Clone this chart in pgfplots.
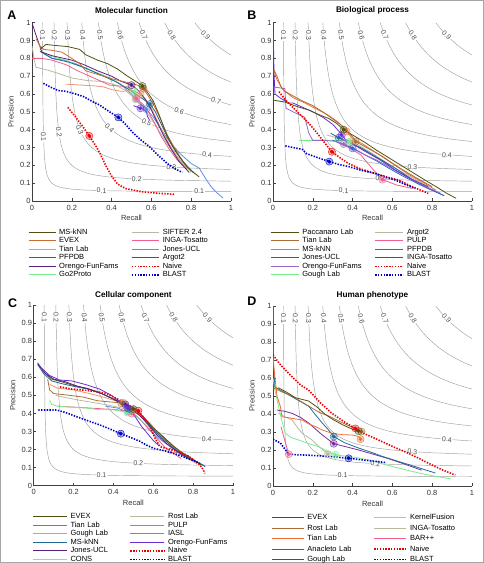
\documentclass[border=0pt]{standalone}
\usepackage{fontspec}
\setmainfont{Liberation Sans}
\usepackage{pgfplots}
\pgfplotsset{compat=1.18}

\definecolor{cOlive}{RGB}{80,80,20}
\definecolor{cBrown}{RGB}{170,110,55}
\definecolor{cBrOr}{RGB}{200,110,50}
\definecolor{cSalmon}{RGB}{230,150,115}
\definecolor{cOrange}{RGB}{240,110,50}
\definecolor{cTeal}{RGB}{35,105,150}
\definecolor{cDPurple}{RGB}{90,30,130}
\definecolor{cMPurple}{RGB}{115,45,155}
\definecolor{cLPurple}{RGB}{150,105,200}
\definecolor{cLGreen}{RGB}{120,235,140}
\definecolor{cLGray}{RGB}{185,185,160}
\definecolor{cPink}{RGB}{240,95,140}
\definecolor{cLBlue}{RGB}{95,140,230}
\definecolor{cBlue}{RGB}{50,100,215}
\definecolor{cViolet}{RGB}{105,45,210}
\definecolor{cNaive}{RGB}{235,0,0}
\definecolor{cBlast}{RGB}{0,0,200}
\definecolor{cIso}{RGB}{160,160,160}

\newcommand{\smallfont}{\fontsize{7.5}{8}\selectfont}

\tikzset{isolabel/.style={fill=white, inner sep=0.7pt, font=\fontsize{7}{7}\selectfont, text=black!70}}

\pgfplotsset{
  panel/.style={
    scale only axis,
    xmin=0, xmax=1, ymin=0, ymax=1,
    axis x line*=bottom, axis y line*=left,
    axis line style={-, black!75, line width=0.5pt},
    tick align=inside, major tick length=2.5pt,
    tick style={black!75, line width=0.5pt},
    xtick={0,0.2,0.4,0.6,0.8,1}, xticklabels={0,0.2,0.4,0.6,0.8,1},
    ytick={0,0.1,0.2,0.3,0.4,0.5,0.6,0.7,0.8,0.9,1},
    yticklabels={0,0.1,0.2,0.3,0.4,0.5,0.6,0.7,0.8,0.9,1},
    tick label style={font=\smallfont, text=black!80},
    xticklabel style={yshift=-0.5pt},
    yticklabel style={xshift=2pt},
    xlabel=Recall, ylabel=Precision,
    label style={font=\smallfont, text=black!80},
    xlabel style={at={(axis description cs:0.5,-0.097)}, anchor=center},
    ylabel style={at={(axis description cs:-0.106,0.5)}, anchor=center},
    title style={font=\bfseries\fontsize{8.2}{9}\selectfont, anchor=center},
    legend columns=2,
    legend cell align=left,
    legend style={draw=none, fill=none, inner sep=0pt, font=\smallfont,
      anchor=north west, row sep=1.9pt, column sep=3pt,
      nodes={inner sep=0pt, text height=5.2pt, text depth=1.4pt}},
  },
  dl/.style={forget plot, line width=0.8pt, color=#1},
  nv/.style={forget plot, color=cNaive, line width=1.6pt, dash pattern=on 1.4pt off 1.4pt},
  bl/.style={forget plot, color=cBlast, line width=1.6pt, dash pattern=on 1.4pt off 1.4pt},
  isoline/.style={forget plot, color=cIso, line width=0.45pt, smooth},
}

% iso-F curves, F = 0.1 ... 0.9
\newcommand{\isoF}{%
  \addplot[isoline] coordinates {(0.0526,1) (0.0543,0.6315) (0.0570,0.4060) (0.0615,0.2680) (0.0687,0.1834) (0.0806,0.1317) (0.1,0.1) (0.1317,0.0806) (0.1834,0.0687) (0.2680,0.0615) (0.4060,0.0570) (0.6315,0.0543) (1,0.0526)};
  \addplot[isoline] coordinates {(0.1111,1) (0.1160,0.7240) (0.1231,0.5327) (0.1333,0.4) (0.1481,0.3080) (0.1693,0.2442) (0.2,0.2) (0.2442,0.1693) (0.3080,0.1481) (0.4,0.1333) (0.5327,0.1231) (0.7240,0.1160) (1,0.1111)};
  \addplot[isoline] coordinates {(0.1765,1) (0.1853,0.7866) (0.1972,0.6268) (0.2130,0.5071) (0.2341,0.4174) (0.2623,0.3503) (0.3,0.3) (0.3503,0.2623) (0.4174,0.2341) (0.5071,0.2130) (0.6268,0.1972) (0.7866,0.1853) (1,0.1765)};
  \addplot[isoline] coordinates {(0.25,1) (0.2630,0.8350) (0.2794,0.7040) (0.3,0.6) (0.3260,0.5175) (0.3587,0.4520) (0.4,0.4) (0.4520,0.3587) (0.5175,0.3260) (0.6,0.3) (0.7040,0.2794) (0.8350,0.2630) (1,0.25)};
  \addplot[isoline] coordinates {(0.3333,1) (0.3501,0.8745) (0.3702,0.7700) (0.3943,0.6830) (0.4234,0.6106) (0.4582,0.5502) (0.5,0.5) (0.5502,0.4582) (0.6106,0.4234) (0.6830,0.3943) (0.7700,0.3702) (0.8745,0.3501) (1,0.3333)};
  \addplot[isoline] coordinates {(0.4286,1) (0.4481,0.9078) (0.4705,0.8278) (0.4964,0.7583) (0.5262,0.6979) (0.5605,0.6455) (0.6,0.6) (0.6455,0.5605) (0.6979,0.5262) (0.7583,0.4964) (0.8278,0.4705) (0.9078,0.4481) (1,0.4286)};
  \addplot[isoline] coordinates {(0.5385,1) (0.5590,0.9363) (0.5817,0.8788) (0.6068,0.8270) (0.6348,0.7802) (0.6657,0.7380) (0.7,0.7) (0.7380,0.6657) (0.7802,0.6348) (0.8270,0.6068) (0.8788,0.5817) (0.9363,0.5590) (1,0.5385)};
  \addplot[isoline] coordinates {(0.6667,1) (0.6853,0.9608) (0.7052,0.9242) (0.7266,0.8899) (0.7494,0.8579) (0.7739,0.8280) (0.8,0.8) (0.8280,0.7739) (0.8579,0.7494) (0.8899,0.7266) (0.9242,0.7052) (0.9608,0.6853) (1,0.6667)};
  \addplot[isoline] coordinates {(0.8182,1) (0.8307,0.9819) (0.8436,0.9644) (0.8570,0.9475) (0.8709,0.9311) (0.8852,0.9153) (0.9,0.9) (0.9153,0.8852) (0.9311,0.8709) (0.9475,0.8570) (0.9644,0.8436) (0.9819,0.8307) (1,0.8182)};
}
\newcommand{\clab}[4]{\node[isolabel, rotate=#3] at (axis cs:#1,#2) {#4};}
\newcommand{\toplabels}{%
  \clab{0.0528}{0.93}{-90}{0.1}
  \clab{0.112}{0.93}{-89}{0.2}
  \clab{0.179}{0.93}{-88}{0.3}
  \clab{0.255}{0.93}{-85}{0.4}
  \clab{0.342}{0.93}{-81}{0.5}
  \clab{0.443}{0.93}{-76}{0.6}
  \clab{0.561}{0.93}{-68}{0.7}
  \clab{0.702}{0.93}{-57}{0.8}
  \clab{0.872}{0.93}{-45}{0.9}
}
% best-F point: halo plus dot
\newcommand{\fmax}[3]{%
  \addplot[forget plot, only marks, mark=*, mark size=3.6pt,
    mark options={draw=#1, fill=#1, fill opacity=0.3, draw opacity=0.8, line width=0.5pt}] coordinates {(#2,#3)};
  \addplot[forget plot, only marks, mark=*, mark size=1.7pt, mark options={draw=#1, fill=#1}] coordinates {(#2,#3)};
}
\newcommand{\leg}[2]{\addlegendimage{color=#1, line width=1pt}\addlegendentry{#2}}
\newcommand{\legN}{\addlegendimage{color=cNaive, line width=1.6pt, dash pattern=on 1.4pt off 1.4pt}\addlegendentry{Naive}}
\newcommand{\legB}{\addlegendimage{color=cBlast, line width=1.6pt, dash pattern=on 1.4pt off 1.4pt}\addlegendentry{BLAST}}

\begin{document}
\begin{tikzpicture}[x=1pt,y=1pt]
\useasboundingbox (0,0) rectangle (484,563);
\draw[black!35, line width=0.8pt] (0.4,0.4) rectangle (483.6,562.6);

% ---------------- A: Molecular function ----------------
\begin{axis}[panel, at={(32pt,362pt)}, anchor=south west, width=199pt, height=178.3pt,
  title={Molecular function}, title style={at={(axis description cs:0.5,1.034)}},
  legend image code/.code={\draw[#1] (0pt,0pt) -- (27pt,0pt);},
  legend style={at={(axis description cs:-0.02,-0.157)}},
  legend style={/tikz/column 2/.style={text width=69pt}}]
\isoF
\toplabels
\clab{0.058}{0.36}{-88}{0.1}
\clab{0.135}{0.386}{-82}{0.2}
\clab{0.24}{0.40}{-68}{0.3}
\clab{0.39}{0.41}{-45}{0.4}
\clab{0.576}{0.442}{-28}{0.5}
\clab{0.74}{0.505}{-23}{0.6}
\clab{0.925}{0.563}{-18}{0.7}
\clab{0.88}{0.259}{-4.5}{0.4}
\clab{0.70}{0.191}{-4}{0.3}
\clab{0.526}{0.124}{-3}{0.2}
\clab{0.35}{0.058}{-1.4}{0.1}
\clab{0.84}{0.053}{0}{0.1}
\addplot[dl=cLGray] coordinates {(0.0,0.87) (0.01,0.80) (0.02,0.75) (0.06,0.74) (0.12,0.72) (0.20,0.69) (0.28,0.675) (0.36,0.67) (0.42,0.65) (0.47,0.62) (0.52,0.57) (0.56,0.52) (0.60,0.46) (0.64,0.39) (0.68,0.32) (0.72,0.26) (0.77,0.20) (0.82,0.15)};
\addplot[dl=cLBlue] coordinates {(0.04,0.84) (0.10,0.80) (0.16,0.79) (0.22,0.77) (0.30,0.73) (0.38,0.69) (0.44,0.66) (0.50,0.60) (0.54,0.55) (0.575,0.515) (0.61,0.47) (0.65,0.40) (0.70,0.32) (0.75,0.26) (0.80,0.21) (0.84,0.185) (0.87,0.13) (0.90,0.08) (0.93,0.045) (0.96,0.017)};
\addplot[dl=cPink] coordinates {(0.0,0.80) (0.05,0.80) (0.10,0.79) (0.17,0.765) (0.23,0.73) (0.29,0.70) (0.35,0.67) (0.39,0.65) (0.44,0.645) (0.48,0.64) (0.51,0.61) (0.525,0.575) (0.56,0.54) (0.59,0.49) (0.62,0.43) (0.65,0.36) (0.69,0.29) (0.73,0.23) (0.78,0.18)};
\addplot[dl=cLGreen] coordinates {(0.05,0.83) (0.10,0.81) (0.17,0.79) (0.23,0.76) (0.29,0.735) (0.35,0.71) (0.40,0.685) (0.45,0.65) (0.49,0.63) (0.515,0.615) (0.55,0.59) (0.58,0.55) (0.61,0.49) (0.64,0.42) (0.67,0.35) (0.71,0.28) (0.75,0.22) (0.80,0.16)};
\addplot[dl=cTeal] coordinates {(0.04,0.84) (0.10,0.80) (0.18,0.78) (0.26,0.75) (0.34,0.71) (0.42,0.67) (0.48,0.63) (0.52,0.60) (0.56,0.57) (0.593,0.544) (0.62,0.50) (0.65,0.43) (0.68,0.36) (0.72,0.28) (0.76,0.22) (0.81,0.16)};
\addplot[dl=cSalmon] coordinates {(0.17,0.655) (0.25,0.65) (0.32,0.645) (0.36,0.64) (0.40,0.625) (0.45,0.615) (0.50,0.62) (0.545,0.60) (0.57,0.57) (0.60,0.52) (0.63,0.45) (0.66,0.38) (0.70,0.30) (0.74,0.23) (0.78,0.18)};
\addplot[dl=cDPurple] coordinates {(0.0,1.0) (0.02,0.93) (0.05,0.835) (0.10,0.815) (0.16,0.80) (0.20,0.79) (0.26,0.765) (0.33,0.73) (0.40,0.70) (0.45,0.67) (0.50,0.65) (0.53,0.625) (0.57,0.57) (0.60,0.51) (0.63,0.44) (0.66,0.37) (0.70,0.29) (0.74,0.22) (0.79,0.16)};
\addplot[dl=cBrOr] coordinates {(0.02,0.91) (0.04,0.87) (0.06,0.85) (0.10,0.845) (0.15,0.835) (0.20,0.80) (0.24,0.77) (0.27,0.73) (0.30,0.72) (0.36,0.70) (0.42,0.68) (0.48,0.665) (0.53,0.65) (0.56,0.63) (0.59,0.58) (0.62,0.52) (0.65,0.45) (0.68,0.37) (0.72,0.29) (0.76,0.22) (0.80,0.17)};
\addplot[dl=cOlive] coordinates {(0.04,0.85) (0.07,0.878) (0.12,0.872) (0.18,0.866) (0.24,0.85) (0.27,0.82) (0.33,0.79) (0.38,0.77) (0.43,0.74) (0.48,0.70) (0.53,0.665) (0.555,0.645) (0.58,0.61) (0.61,0.56) (0.64,0.48) (0.67,0.39) (0.70,0.32) (0.74,0.25) (0.78,0.19) (0.84,0.135)};
\addplot[dl=cViolet] coordinates {(0.51,0.535) (0.545,0.52) (0.56,0.515) (0.575,0.50) (0.58,0.475) (0.59,0.455)};
\addplot[nv] coordinates {(0.18,0.525) (0.22,0.47) (0.26,0.41) (0.288,0.365) (0.32,0.31) (0.345,0.26) (0.37,0.2) (0.40,0.14) (0.43,0.095) (0.47,0.07) (0.55,0.052) (0.64,0.043) (0.72,0.037)};
\addplot[bl] coordinates {(0.057,0.66) (0.10,0.635) (0.13,0.62) (0.17,0.615) (0.22,0.60) (0.26,0.585) (0.30,0.56) (0.34,0.538) (0.39,0.50) (0.434,0.469) (0.47,0.43) (0.51,0.38) (0.55,0.34) (0.59,0.305) (0.63,0.26) (0.68,0.21) (0.72,0.18) (0.755,0.16)};
\fmax{cLGray}{0.52}{0.57}
\fmax{cLBlue}{0.575}{0.515}
\fmax{cPink}{0.525}{0.575}
\fmax{cLGreen}{0.515}{0.615}
\fmax{cTeal}{0.593}{0.544}
\fmax{cSalmon}{0.545}{0.60}
\fmax{cDPurple}{0.50}{0.65}
\fmax{cBrOr}{0.56}{0.63}
\fmax{cOlive}{0.555}{0.645}
\fmax{cViolet}{0.545}{0.52}
\fmax{cNaive}{0.288}{0.365}
\fmax{cBlast}{0.434}{0.469}
\leg{cOlive}{MS-kNN}\leg{cLGray}{SIFTER 2.4}
\leg{cBrOr}{EVEX}\leg{cPink}{INGA-Tosatto}
\leg{cSalmon}{Tian Lab}\leg{cLBlue}{Jones-UCL}
\leg{cTeal}{PFPDB}\leg{cViolet}{Argot2}
\leg{cDPurple}{Orengo-FunFams}\legN
\leg{cLGreen}{Go2Proto}\legB
\end{axis}

% ---------------- B: Biological process ----------------
\begin{axis}[panel, at={(273pt,362pt)}, anchor=south west, width=199pt, height=178.3pt,
  title={Biological process}, title style={at={(axis description cs:0.5,1.034)}},
  legend image code/.code={\draw[#1] (0pt,0pt) -- (28pt,0pt);},
  legend style={at={(axis description cs:-0.014,-0.157)}},
  legend style={/tikz/column 2/.style={text width=69pt}}]
\isoF
\toplabels
\clab{0.874}{0.258}{-4.5}{0.4}
\clab{0.70}{0.191}{-4}{0.3}
\clab{0.54}{0.127}{-3}{0.2}
\clab{0.355}{0.058}{-1.4}{0.1}
\addplot[dl=cLGray] coordinates {(0.27,0.37) (0.32,0.355) (0.37,0.34) (0.42,0.32) (0.48,0.28) (0.55,0.23) (0.62,0.18) (0.70,0.13) (0.78,0.08)};
\addplot[dl=cPink] coordinates {(0.32,0.33) (0.38,0.30) (0.44,0.26) (0.50,0.18) (0.55,0.12) (0.62,0.09) (0.70,0.07)};
\addplot[dl=cLGreen] coordinates {(0.13,0.34) (0.20,0.34) (0.28,0.34) (0.35,0.34) (0.38,0.33) (0.42,0.31) (0.48,0.27) (0.55,0.22) (0.62,0.17) (0.70,0.12) (0.78,0.075)};
\addplot[dl=cTeal] coordinates {(0.29,0.38) (0.33,0.355) (0.38,0.33) (0.44,0.30) (0.50,0.26) (0.56,0.22) (0.62,0.18) (0.70,0.12) (0.78,0.07) (0.86,0.03)};
\addplot[dl=cBlue] coordinates {(0.30,0.34) (0.35,0.32) (0.40,0.295) (0.46,0.26) (0.52,0.225) (0.58,0.185) (0.66,0.135) (0.74,0.09) (0.82,0.05) (0.86,0.03)};
\addplot[dl=cLPurple] coordinates {(0.0,0.64) (0.06,0.63) (0.065,0.52) (0.12,0.49) (0.16,0.47) (0.18,0.38) (0.20,0.34) (0.26,0.34) (0.31,0.335) (0.355,0.32) (0.40,0.30) (0.46,0.26) (0.52,0.23) (0.60,0.18) (0.68,0.13) (0.76,0.085) (0.84,0.045)};
\addplot[dl=cViolet] coordinates {(0.0,1.0) (0.003,0.85) (0.005,0.72) (0.01,0.60) (0.04,0.575) (0.08,0.55) (0.10,0.55) (0.14,0.53) (0.20,0.50) (0.25,0.47) (0.30,0.43) (0.34,0.38) (0.36,0.35) (0.40,0.32) (0.46,0.28) (0.54,0.23) (0.62,0.17) (0.70,0.12) (0.78,0.08)};
\addplot[dl=cOrange] coordinates {(0.005,0.73) (0.02,0.68) (0.05,0.625) (0.10,0.58) (0.16,0.55) (0.22,0.515) (0.28,0.48) (0.33,0.44) (0.37,0.39) (0.40,0.35) (0.45,0.32) (0.52,0.27) (0.60,0.21) (0.68,0.15) (0.76,0.10) (0.82,0.06)};
\addplot[dl=cBrown] coordinates {(0.005,0.735) (0.02,0.70) (0.04,0.64) (0.06,0.615) (0.10,0.59) (0.15,0.56) (0.20,0.535) (0.25,0.50) (0.30,0.46) (0.35,0.42) (0.40,0.36) (0.415,0.333) (0.47,0.30) (0.55,0.25) (0.63,0.19) (0.72,0.13) (0.80,0.08)};
\addplot[dl=cOlive] coordinates {(0.0,0.566) (0.06,0.555) (0.12,0.53) (0.18,0.51) (0.24,0.48) (0.28,0.463) (0.32,0.435) (0.355,0.40) (0.40,0.37) (0.46,0.33) (0.52,0.285) (0.60,0.23) (0.68,0.175) (0.76,0.12) (0.82,0.08) (0.87,0.045) (0.92,0.015)};
\addplot[nv] coordinates {(0.03,0.613) (0.06,0.57) (0.095,0.53) (0.14,0.48) (0.18,0.435) (0.215,0.39) (0.25,0.34) (0.296,0.276) (0.34,0.24) (0.38,0.21) (0.44,0.18) (0.51,0.155) (0.57,0.135) (0.63,0.118) (0.70,0.08) (0.78,0.043)};
\addplot[bl] coordinates {(0.062,0.309) (0.10,0.30) (0.146,0.29) (0.17,0.265) (0.22,0.245) (0.283,0.221) (0.33,0.205) (0.38,0.193) (0.45,0.17) (0.514,0.155) (0.56,0.135) (0.614,0.118) (0.67,0.09) (0.715,0.07)};
\fmax{cLGray}{0.39}{0.335}
\fmax{cPink}{0.55}{0.12}
\fmax{cLGreen}{0.38}{0.33}
\fmax{cTeal}{0.33}{0.355}
\fmax{cBlue}{0.40}{0.295}
\fmax{cLPurple}{0.355}{0.32}
\fmax{cViolet}{0.345}{0.37}
\fmax{cOrange}{0.37}{0.39}
\fmax{cBrown}{0.415}{0.333}
\fmax{cOlive}{0.355}{0.40}
\fmax{cNaive}{0.296}{0.276}
\fmax{cBlast}{0.283}{0.221}
\leg{cOlive}{Paccanaro Lab}\leg{cLGray}{Argot2}
\leg{cBrown}{Tian Lab}\leg{cPink}{PULP}
\leg{cOrange}{MS-kNN}\leg{cBlue}{PFPDB}
\leg{cTeal}{Jones-UCL}\leg{cViolet}{INGA-Tosatto}
\leg{cLPurple}{Orengo-FunFams}\legN
\leg{cLGreen}{Gough Lab}\legB
\end{axis}

% ---------------- C: Cellular component ----------------
\begin{axis}[panel, at={(33.7pt,77.3pt)}, anchor=south west, width=199.3pt, height=180.7pt,
  title={Cellular component}, title style={at={(axis description cs:0.5,1.022)}},
  legend image code/.code={\draw[#1] (0pt,0pt) -- (34pt,0pt);},
  legend style={at={(axis description cs:-0.007,-0.153)}},
  legend style={/tikz/column 2/.style={text width=56pt}}]
\isoF
\toplabels
\clab{0.868}{0.258}{-4.5}{0.4}
\clab{0.70}{0.191}{-4}{0.3}
\clab{0.525}{0.124}{-3}{0.2}
\clab{0.34}{0.059}{-1.4}{0.1}
\addplot[dl=cLBlue] coordinates {(0.36,0.44) (0.42,0.43) (0.47,0.41) (0.50,0.40) (0.54,0.36) (0.58,0.31) (0.63,0.26) (0.68,0.22) (0.74,0.17) (0.80,0.14) (0.86,0.11)};
\addplot[dl=cPink] coordinates {(0.12,0.44) (0.20,0.435) (0.28,0.43) (0.35,0.425) (0.42,0.42) (0.47,0.41) (0.50,0.40) (0.54,0.36) (0.58,0.31) (0.62,0.26) (0.66,0.21) (0.70,0.18) (0.74,0.15)};
\addplot[dl=cLGray] coordinates {(0.11,0.50) (0.15,0.49) (0.22,0.475) (0.30,0.46) (0.38,0.445) (0.44,0.43) (0.50,0.42) (0.54,0.39) (0.58,0.35) (0.62,0.30) (0.67,0.25) (0.72,0.20) (0.78,0.16)};
\addplot[dl=cLGreen] coordinates {(0.08,0.475) (0.09,0.45) (0.12,0.44) (0.18,0.435) (0.26,0.43) (0.33,0.42) (0.40,0.42) (0.45,0.41) (0.49,0.40) (0.53,0.37) (0.57,0.33) (0.62,0.28) (0.67,0.24) (0.72,0.20) (0.77,0.16) (0.80,0.14)};
\addplot[dl=cSalmon] coordinates {(0.08,0.56) (0.12,0.54) (0.2,0.53) (0.28,0.51) (0.35,0.49) (0.41,0.47) (0.45,0.46) (0.49,0.43) (0.53,0.40) (0.57,0.35) (0.61,0.30) (0.66,0.25) (0.71,0.20) (0.76,0.16) (0.82,0.12)};
\addplot[dl=cBrown] coordinates {(0.07,0.59) (0.08,0.53) (0.10,0.51) (0.18,0.50) (0.25,0.49) (0.32,0.47) (0.37,0.465) (0.42,0.46) (0.44,0.456) (0.48,0.44) (0.52,0.41) (0.56,0.37) (0.60,0.32) (0.65,0.27) (0.70,0.22) (0.75,0.18) (0.80,0.14)};
\addplot[dl=cTeal] coordinates {(0.02,0.67) (0.05,0.62) (0.09,0.58) (0.14,0.565) (0.20,0.55) (0.27,0.535) (0.34,0.51) (0.40,0.48) (0.45,0.45) (0.48,0.425) (0.52,0.40) (0.56,0.36) (0.61,0.30) (0.66,0.25) (0.72,0.19) (0.78,0.15) (0.84,0.12) (0.86,0.105)};
\addplot[dl=cOlive] coordinates {(0.02,0.68) (0.05,0.63) (0.09,0.59) (0.14,0.575) (0.20,0.555) (0.26,0.54) (0.32,0.52) (0.38,0.49) (0.43,0.46) (0.47,0.44) (0.51,0.42) (0.55,0.38) (0.59,0.33) (0.63,0.29) (0.68,0.24) (0.73,0.19) (0.78,0.16) (0.84,0.115)};
\addplot[dl=cDPurple] coordinates {(0.02,0.675) (0.06,0.62) (0.10,0.59) (0.16,0.575) (0.22,0.55) (0.28,0.535) (0.34,0.51) (0.40,0.48) (0.46,0.45) (0.50,0.42) (0.54,0.38) (0.58,0.33) (0.62,0.28) (0.67,0.23) (0.72,0.19) (0.78,0.15)};
\addplot[dl=cViolet] coordinates {(0.03,0.66) (0.08,0.61) (0.13,0.585) (0.19,0.58) (0.26,0.56) (0.33,0.535) (0.39,0.50) (0.44,0.46) (0.48,0.42) (0.51,0.38) (0.54,0.33) (0.57,0.29) (0.60,0.25) (0.63,0.22)};
\addplot[nv] coordinates {(0.132,0.547) (0.19,0.535) (0.249,0.529) (0.32,0.52) (0.366,0.51) (0.42,0.48) (0.47,0.45) (0.525,0.415) (0.55,0.38) (0.584,0.326) (0.61,0.26) (0.634,0.216) (0.67,0.205) (0.70,0.197) (0.74,0.18) (0.768,0.17) (0.80,0.145) (0.834,0.115) (0.85,0.09) (0.859,0.068)};
\addplot[bl] coordinates {(0.023,0.419) (0.07,0.419) (0.115,0.419) (0.16,0.405) (0.215,0.382) (0.27,0.36) (0.333,0.336) (0.39,0.31) (0.437,0.288) (0.49,0.265) (0.534,0.245) (0.565,0.225) (0.601,0.207) (0.65,0.195) (0.70,0.179) (0.74,0.165) (0.768,0.152) (0.80,0.14) (0.834,0.124)};
\fmax{cLBlue}{0.475}{0.41}
\fmax{cPink}{0.49}{0.40}
\fmax{cLGray}{0.503}{0.419}
\fmax{cLGreen}{0.47}{0.405}
\fmax{cSalmon}{0.45}{0.46}
\fmax{cBrown}{0.44}{0.456}
\fmax{cTeal}{0.48}{0.425}
\fmax{cOlive}{0.50}{0.424}
\fmax{cDPurple}{0.46}{0.45}
\fmax{cViolet}{0.47}{0.43}
\fmax{cNaive}{0.525}{0.415}
\fmax{cBlast}{0.437}{0.288}
\leg{cOlive}{EVEX}\leg{cLGray}{Rost Lab}
\leg{cBrown}{Tian Lab}\leg{cPink}{PULP}
\leg{cSalmon}{Gough Lab}\leg{cLBlue}{IASL}
\leg{cTeal}{MS-kNN}\leg{cViolet}{Orengo-FunFams}
\leg{cDPurple}{Jones-UCL}\legN
\leg{cLGreen}{CONS}\legB
\end{axis}

% ---------------- D: Human phenotype ----------------
\begin{axis}[panel, at={(273pt,77pt)}, anchor=south west, width=199pt, height=180pt,
  title={Human phenotype}, title style={at={(axis description cs:0.5,1.024)}},
  legend image code/.code={\draw[#1] (0pt,0pt) -- (32pt,0pt);},
  legend style={at={(axis description cs:-0.009,-0.158)}, row sep=3.8pt},
  legend style={/tikz/column 2/.style={text width=63pt}}]
\isoF
\toplabels
\clab{0.874}{0.258}{-4.5}{0.4}
\clab{0.70}{0.191}{-4}{0.3}
\clab{0.514}{0.124}{-3}{0.2}
\clab{0.35}{0.058}{-1.4}{0.1}
\addplot[dl=cLGray] coordinates {(0.027,0.404) (0.06,0.385) (0.095,0.367) (0.12,0.33) (0.146,0.293) (0.17,0.275) (0.196,0.256) (0.23,0.22) (0.276,0.177)};
\addplot[dl=cPink] coordinates {(0.04,0.33) (0.06,0.25) (0.079,0.177)};
\addplot[dl=cLGreen] coordinates {(0.0,0.60) (0.011,0.526) (0.028,0.441) (0.045,0.36) (0.062,0.293) (0.09,0.27) (0.128,0.256) (0.18,0.235) (0.229,0.219) (0.27,0.195) (0.313,0.173) (0.37,0.165) (0.43,0.156) (0.50,0.14) (0.56,0.12) (0.64,0.097) (0.726,0.074) (0.81,0.055) (0.893,0.04)};
\addplot[dl=cMPurple] coordinates {(0.02,0.422) (0.06,0.415) (0.095,0.404) (0.14,0.38) (0.179,0.35) (0.21,0.32) (0.246,0.285) (0.305,0.235) (0.36,0.22) (0.43,0.20) (0.50,0.178) (0.58,0.152) (0.66,0.122) (0.747,0.088)};
\addplot[dl=cTeal] coordinates {(0.0,0.70) (0.01,0.55) (0.062,0.517) (0.12,0.48) (0.179,0.444) (0.21,0.40) (0.246,0.352) (0.28,0.31) (0.305,0.275) (0.36,0.24) (0.43,0.211) (0.50,0.185) (0.548,0.165) (0.62,0.14) (0.682,0.119) (0.75,0.095) (0.816,0.072)};
\addplot[dl=cOrange] coordinates {(0.0,1.0) (0.0,0.72) (0.01,0.60) (0.02,0.50) (0.037,0.441) (0.045,0.385) (0.10,0.375) (0.146,0.367) (0.18,0.345) (0.213,0.33) (0.25,0.31) (0.296,0.293) (0.35,0.285) (0.40,0.283) (0.43,0.275) (0.44,0.26)};
\addplot[dl=cBrown] coordinates {(0.0,0.546) (0.05,0.52) (0.095,0.50) (0.14,0.47) (0.179,0.444) (0.23,0.41) (0.28,0.389) (0.347,0.352) (0.40,0.325) (0.445,0.302)};
\addplot[dl=cOlive] coordinates {(0.027,0.546) (0.07,0.52) (0.112,0.491) (0.15,0.48) (0.179,0.472) (0.22,0.44) (0.26,0.40) (0.30,0.37) (0.35,0.34) (0.40,0.315) (0.43,0.305)};
\addplot[nv] coordinates {(0.0,0.728) (0.04,0.67) (0.095,0.607) (0.14,0.56) (0.179,0.533) (0.24,0.46) (0.296,0.404) (0.36,0.355) (0.414,0.32) (0.46,0.29) (0.514,0.264) (0.60,0.22) (0.682,0.181) (0.73,0.155) (0.782,0.126) (0.85,0.09) (0.916,0.061)};
\addplot[bl] coordinates {(0.0,0.26) (0.037,0.239) (0.062,0.202) (0.079,0.177) (0.13,0.173) (0.179,0.171) (0.24,0.167) (0.296,0.163) (0.38,0.154) (0.45,0.145) (0.514,0.137) (0.564,0.131)};
\fmax{cLGray}{0.276}{0.177}
\fmax{cPink}{0.079}{0.177}
\fmax{cLGreen}{0.313}{0.173}
\fmax{cMPurple}{0.305}{0.235}
\fmax{cTeal}{0.305}{0.275}
\fmax{cOrange}{0.44}{0.26}
\fmax{cBrown}{0.445}{0.302}
\fmax{cOlive}{0.43}{0.305}
\fmax{cNaive}{0.414}{0.32}
\fmax{cBlast}{0.38}{0.154}
\leg{cOlive}{EVEX}\leg{cLGreen}{KernelFusion}
\leg{cBrown}{Rost Lab}\leg{cLGray}{INGA-Tosatto}
\leg{cOrange}{Tian Lab}\leg{cPink}{BAR++}
\leg{cTeal}{Anacleto Lab}\legN
\leg{cMPurple}{Gough Lab}\legB
\end{axis}

\node[font=\bfseries\fontsize{12.5}{13}\selectfont] at (12,548) {A};
\node[font=\bfseries\fontsize{12.5}{13}\selectfont] at (252,548) {B};
\node[font=\bfseries\fontsize{12.5}{13}\selectfont] at (12.7,260.3) {C};
\node[font=\bfseries\fontsize{12.5}{13}\selectfont] at (252,261.3) {D};
\end{tikzpicture}
\end{document}
